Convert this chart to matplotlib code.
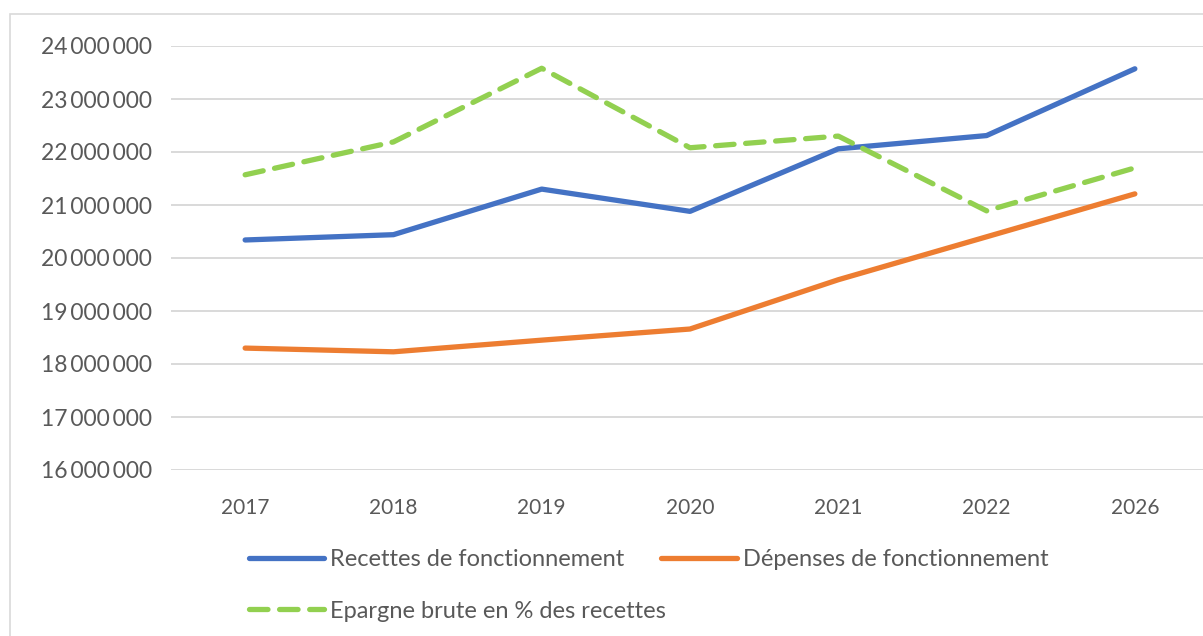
#!/usr/bin/env python3
"""Recettes / dépenses de fonctionnement et épargne brute, 2017-2026."""

import matplotlib
import numpy as np

matplotlib.use("Agg")
import matplotlib.pyplot as plt
from matplotlib.patches import Rectangle
from matplotlib.ticker import FuncFormatter

years = ["2017", "2018", "2019", "2020", "2021", "2022", "2026"]
recettes = [20340000, 20440000, 21300000, 20880000, 22060000, 22310000, 23570000]
depenses = [18300000, 18230000, 18450000, 18660000, 19590000, 20400000, 21210000]
epargne = [21570000, 22190000, 23580000, 22080000, 22300000, 20890000, 21700000]

y_ticks = np.arange(16000000, 24000001, 1000000)

TEXT = "#595959"
GRID = "#D9D9D9"


def fmt_fr(v, _pos=None):
    return f"{int(v):,}".replace(",", "\u2009")


def main() -> None:
    plt.rcParams["font.family"] = ["Lato", "DejaVu Sans"]
    fig = plt.figure(figsize=(12.03, 6.36), dpi=100)

    # chart frame (cropped on the right / bottom)
    fig.patches.append(Rectangle((10 / 1203, -0.1), 1.2, 1 - 14 / 636 + 0.1,
                                 transform=fig.transFigure, fill=False,
                                 edgecolor=GRID, linewidth=1.2))

    ax = fig.add_axes([171 / 1203, 1 - 470 / 636, (1209 - 171) / 1203, (470 - 46) / 636])
    x = np.arange(len(years))

    l1, = ax.plot(x, recettes, color="#4472C4", linewidth=3.8, solid_capstyle="round",
                  solid_joinstyle="round", label="Recettes de fonctionnement", zorder=3)
    l2, = ax.plot(x, depenses, color="#ED7D31", linewidth=3.8, solid_capstyle="round",
                  solid_joinstyle="round", label="Dépenses de fonctionnement", zorder=3)
    l3, = ax.plot(x, epargne, color="#92D050", linewidth=3.8, linestyle=(0, (3.5, 2.2)),
                  dash_capstyle="round", label="Epargne brute en % des recettes", zorder=3)

    ax.set_xlim(-0.5, len(years) - 0.5)
    ax.set_ylim(y_ticks[0], y_ticks[-1])
    ax.set_yticks(y_ticks)
    ax.yaxis.set_major_formatter(FuncFormatter(fmt_fr))
    ax.set_xticks(x)
    ax.set_xticklabels(years)
    ax.grid(axis="y", color=GRID, linewidth=1.4)
    ax.set_axisbelow(True)
    for s in ax.spines.values():
        s.set_visible(False)
    ax.tick_params(axis="both", length=0, colors=TEXT)
    ax.tick_params(axis="y", pad=13.5, labelsize=16.5)
    ax.tick_params(axis="x", pad=20, labelsize=15)

    fig.legend([l1, l3, l2], [l1.get_label(), l3.get_label(), l2.get_label()],
               ncol=2, loc="upper left", bbox_to_anchor=(237 / 1203, 1 - 537 / 636),
               frameon=False, fontsize=17, labelcolor=TEXT, handlelength=3.2,
               handletextpad=0.25, columnspacing=-0.2, labelspacing=1.3, borderpad=0)

    fig.savefig("out.png", dpi=100)
    plt.close(fig)


if __name__ == "__main__":
    main()
